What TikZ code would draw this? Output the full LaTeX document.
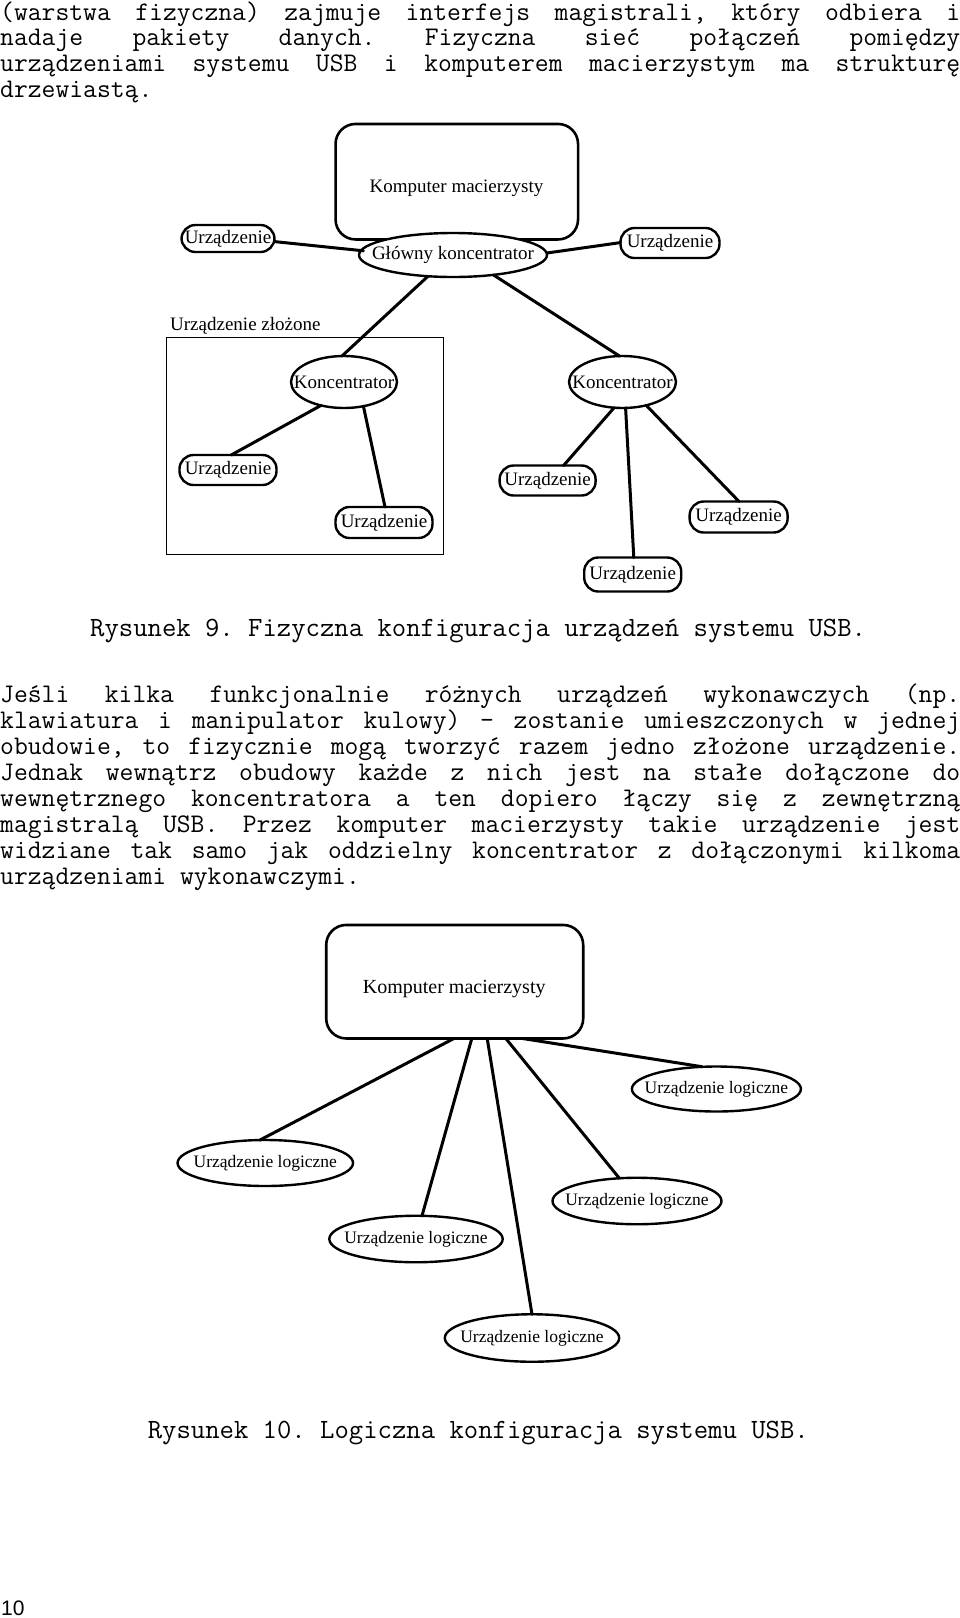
\documentclass[tikz,border=0pt]{standalone}
\usepackage{fontspec}
\setmainfont{Liberation Serif}
\newfontfamily\pagefont{Liberation Sans}
\usetikzlibrary{shapes.geometric,calc}
\frenchspacing
\newcommand\jl[1]{\hbox to 960pt{\spaceskip=\fontdimen2\font plus 1fil\relax #1}}
\tikzset{
  body/.style={font=\ttfamily\fontsize{26.86}{30}\selectfont, anchor=base west, inner sep=0pt},
  captxt/.style={font=\ttfamily\fontsize{27.9}{30}\selectfont, anchor=base west, inner sep=0pt},
  conn/.style={line width=3pt, line cap=round},
  hostbox/.style={draw, line width=2.6pt, rounded corners=20pt, inner sep=0pt},
  lblnine/.style={font=\fontsize{19}{22}\selectfont, inner sep=0pt},
  lblten/.style={font=\fontsize{20}{23}\selectfont, inner sep=0pt},
  dev/.style={draw, line width=2.4pt, rounded corners=14pt, fill=white, inner sep=0pt, font=\fontsize{19}{22}\selectfont},
  hub/.style={draw, ellipse, line width=2.4pt, fill=white, inner sep=0pt, font=\fontsize{19}{22}\selectfont},
  ldev/.style={draw, ellipse, line width=2.4pt, fill=white, inner sep=0pt, font=\fontsize{17.5}{20}\selectfont},
}
\begin{document}
\begin{tikzpicture}[x=1pt,y=-1pt]
\useasboundingbox (0,0) rectangle (960,1618);
\fill[white] (0,0) rectangle (960,1618);

% paragraph 1
\node[body] (p1a) at (0,20) {\jl{(warstwa fizyczna) zajmuje interfejs magistrali, który odbiera i}};
\node[body] (p1b) at (0,45.9) {\jl{nadaje pakiety danych. Fizyczna sieć połączeń pomiędzy}};
\node[body] (p1c) at (0,71.8) {\jl{urządzeniami systemu USB i komputerem macierzystym ma strukturę}};
\node[body] (p1d) at (0,97.7) {drzewiastą.};

% figure 9
\node[hostbox, minimum width=242.5pt, minimum height=115.5pt] (host1) at (456.8,181.7) {};
\node[lblnine] (host1t) at (456.5,188) {Komputer macierzysty};
\node[hub, minimum width=188pt, minimum height=44pt] (glowny) at (453,255) {\makebox[0pt]{Główny koncentrator}};
\node[dev, minimum width=93pt, minimum height=27pt] (u1) at (228,238.5) {Urządzenie};
\node[dev, minimum width=99pt, minimum height=30pt] (u2) at (670,243) {Urządzenie};

\node[draw, line width=1pt, minimum width=277pt, minimum height=216.7pt, inner sep=0pt] (comp) at (304.5,446) {};
\node[lblnine, anchor=base west] (complbl) at (170,330.5) {Urządzenie złożone};

\node[hub, minimum width=106pt, minimum height=52pt] (k1) at (344,382) {\makebox[0pt]{Koncentrator}};
\node[dev, minimum width=97pt, minimum height=30pt] (u3) at (228,470) {Urządzenie};
\node[dev, minimum width=97pt, minimum height=31pt] (u4) at (384,522.5) {Urządzenie};

\node[hub, minimum width=107pt, minimum height=52pt] (k2) at (622.5,382) {\makebox[0pt]{Koncentrator}};
\node[dev, minimum width=96pt, minimum height=30pt] (u5) at (547.6,480.5) {Urządzenie};
\node[dev, minimum width=98pt, minimum height=31pt] (u6) at (738.6,517) {Urządzenie};
\node[dev, minimum width=97pt, minimum height=34pt] (u7) at (632.7,574.5) {Urządzenie};

\draw[conn] ($(u1)+(46.6,3.1)$) -- ($(glowny)+(-89.6,-4.2)$);
\draw[conn] ($(glowny)+(94,-2)$) -- ($(u2)+(-49.6,-0.4)$);
\draw[conn] ($(glowny)+(-25,21.2)$) -- ($(k1)+(-2,-26)$);
\draw[conn] ($(glowny)+(40.4,19.9)$) -- ($(k2)+(-3.1,-26)$);
\draw[conn] ($(k1)+(-23,23.4)$) -- ($(u3)+(3.2,-15)$);
\draw[conn] ($(k1)+(19.4,24.2)$) -- ($(u4)+(1,-15.5)$);
\draw[conn] ($(k2)+(-8.3,25.6)$) -- ($(u5)+(16,-15)$);
\draw[conn] ($(k2)+(3.1,26)$) -- ($(u7)+(1.1,-17)$);
\draw[conn] ($(k2)+(23.7,23.3)$) -- ($(u6)+(0.4,-15.5)$);

\node[captxt] (cap9) at (90,636.7) {Rysunek 9. Fizyczna konfiguracja urządzeń systemu USB.};

% paragraph 2
\node[body] (p2a) at (0,702.8) {\jl{Jeśli kilka funkcjonalnie różnych urządzeń wykonawczych (np.}};
\node[body] (p2b) at (0,728.75) {\jl{klawiatura i manipulator kulowy) – zostanie umieszczonych w jednej}};
\node[body] (p2c) at (0,754.7) {\jl{obudowie, to fizycznie mogą tworzyć razem jedno złożone urządzenie.}};
\node[body] (p2d) at (0,780.65) {\jl{Jednak wewnątrz obudowy każde z nich jest na stałe dołączone do}};
\node[body] (p2e) at (0,806.6) {\jl{wewnętrznego koncentratora a ten dopiero łączy się z zewnętrzną}};
\node[body] (p2f) at (0,832.55) {\jl{magistralą USB. Przez komputer macierzysty takie urządzenie jest}};
\node[body] (p2g) at (0,858.5) {\jl{widziane tak samo jak oddzielny koncentrator z dołączonymi kilkoma}};
\node[body] (p2h) at (0,884.45) {urządzeniami wykonawczymi.};

% figure 10
\node[hostbox, minimum width=257pt, minimum height=113.5pt] (host2) at (454.7,981.7) {};
\node[lblten] (host2t) at (454.2,989) {Komputer macierzysty};
\node[ldev, minimum width=169pt, minimum height=45pt] (l1) at (716.4,1089) {\makebox[0pt]{Urządzenie logiczne}};
\node[ldev, minimum width=175.5pt, minimum height=46pt] (l2) at (265.3,1163) {\makebox[0pt]{Urządzenie logiczne}};
\node[ldev, minimum width=173.4pt, minimum height=46.5pt] (l3) at (416,1239) {\makebox[0pt]{Urządzenie logiczne}};
\node[ldev, minimum width=169pt, minimum height=46.5pt] (l4) at (637,1201) {\makebox[0pt]{Urządzenie logiczne}};
\node[ldev, minimum width=174.4pt, minimum height=47.5pt] (l5) at (532,1338) {\makebox[0pt]{Urządzenie logiczne}};

\draw[conn] ($(host2)+(-0.7,56.75)$) -- ($(l2)+(-5.3,-23)$);
\draw[conn] ($(host2)+(17.1,56.75)$) -- ($(l3)+(6,-23.2)$);
\draw[conn] ($(host2)+(32.5,56.75)$) -- ($(l5)+(0,-23.7)$);
\draw[conn] ($(host2)+(51.1,56.75)$) -- ($(l4)+(-17.6,-22.7)$);
\draw[conn] ($(host2)+(67.6,56.75)$) -- ($(l1)+(-14.4,-22.3)$);

\node[captxt] (cap10) at (147.6,1438.8) {Rysunek 10. Logiczna konfiguracja systemu USB.};

\node[anchor=base west, inner sep=0pt, font=\pagefont\fontsize{21}{24}\selectfont] (pg) at (1,1615) {10};
\end{tikzpicture}
\end{document}
